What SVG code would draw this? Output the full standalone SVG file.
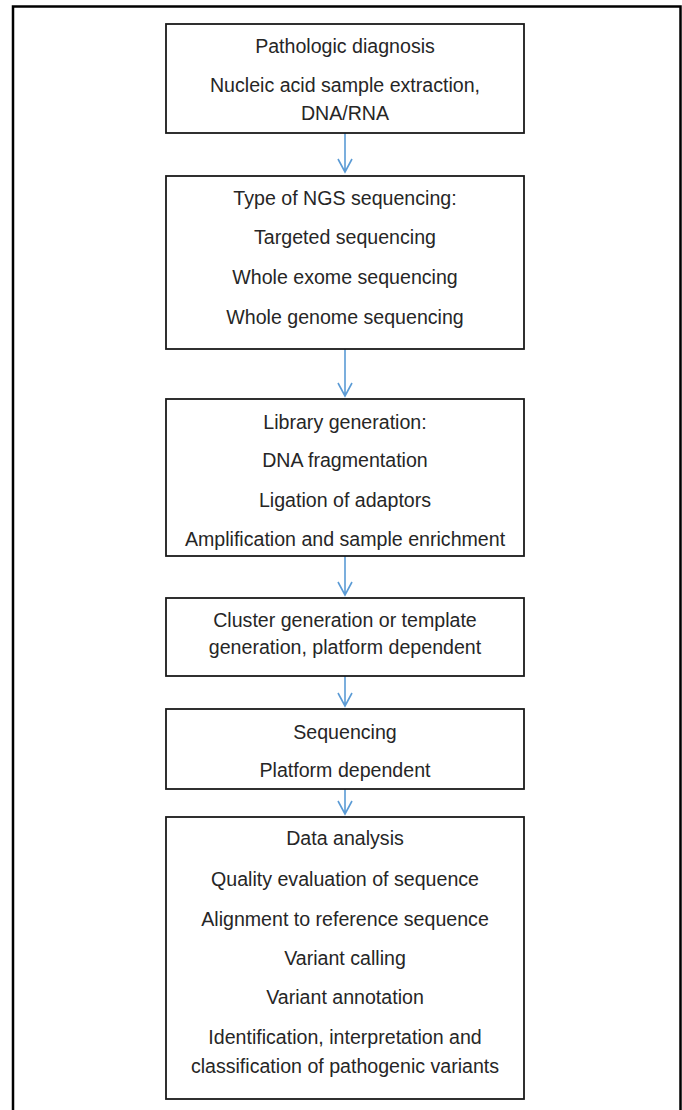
<svg xmlns="http://www.w3.org/2000/svg" width="682" height="1110" viewBox="0 0 682 1110">
<style>
.box{fill:#fff;stroke:#1a1a1a;stroke-width:1.8}
.t{font-family:"Liberation Sans",Arial,sans-serif;font-size:19.6px;fill:#262626;text-anchor:middle}
.c{stroke:#5b9bd5;stroke-width:1.6;fill:none}
</style>
<rect width="682" height="1110" fill="#fff"/>
<path d="M13,1112 V6.5 H680.5 V1112" fill="none" stroke="#000" stroke-width="2.5"/>
<g id="connectors">
<path class="c" d="M345,133 V172 M338,159 L345,172 L352,159"/>
<path class="c" d="M345,349 V396 M338,383 L345,396 L352,383"/>
<path class="c" d="M345,556 V595 M338,582 L345,595 L352,582"/>
<path class="c" d="M345,676 V706 M338,693 L345,706 L352,693"/>
<path class="c" d="M345,789 V814 M338,801 L345,814 L352,801"/>
</g>
<g id="n1">
<rect class="box" x="166" y="24" width="358" height="109"/>
<text class="t" x="345" y="53">Pathologic diagnosis</text>
<text class="t" x="345" y="92">Nucleic acid sample extraction,</text>
<text class="t" x="345" y="120">DNA/RNA</text>
</g>
<g id="n2">
<rect class="box" x="166" y="176" width="358" height="173"/>
<text class="t" x="345" y="205">Type of NGS sequencing:</text>
<text class="t" x="345" y="244">Targeted sequencing</text>
<text class="t" x="345" y="284">Whole exome sequencing</text>
<text class="t" x="345" y="324">Whole genome sequencing</text>
</g>
<g id="n3">
<rect class="box" x="166" y="399" width="358" height="157"/>
<text class="t" x="345" y="429">Library generation:</text>
<text class="t" x="345" y="467">DNA fragmentation</text>
<text class="t" x="345" y="507">Ligation of adaptors</text>
<text class="t" x="345" y="546">Amplification and sample enrichment</text>
</g>
<g id="n4">
<rect class="box" x="166" y="598" width="358" height="78"/>
<text class="t" x="345" y="627">Cluster generation or template</text>
<text class="t" x="345" y="654">generation, platform dependent</text>
</g>
<g id="n5">
<rect class="box" x="166" y="709" width="358" height="80"/>
<text class="t" x="345" y="739">Sequencing</text>
<text class="t" x="345" y="777">Platform dependent</text>
</g>
<g id="n6">
<rect class="box" x="166" y="817" width="358" height="282"/>
<text class="t" x="345" y="845">Data analysis</text>
<text class="t" x="345" y="886">Quality evaluation of sequence</text>
<text class="t" x="345" y="926">Alignment to reference sequence</text>
<text class="t" x="345" y="965">Variant calling</text>
<text class="t" x="345" y="1004">Variant annotation</text>
<text class="t" x="345" y="1044">Identification, interpretation and</text>
<text class="t" x="345" y="1073">classification of pathogenic variants</text>
</g>
</svg>
